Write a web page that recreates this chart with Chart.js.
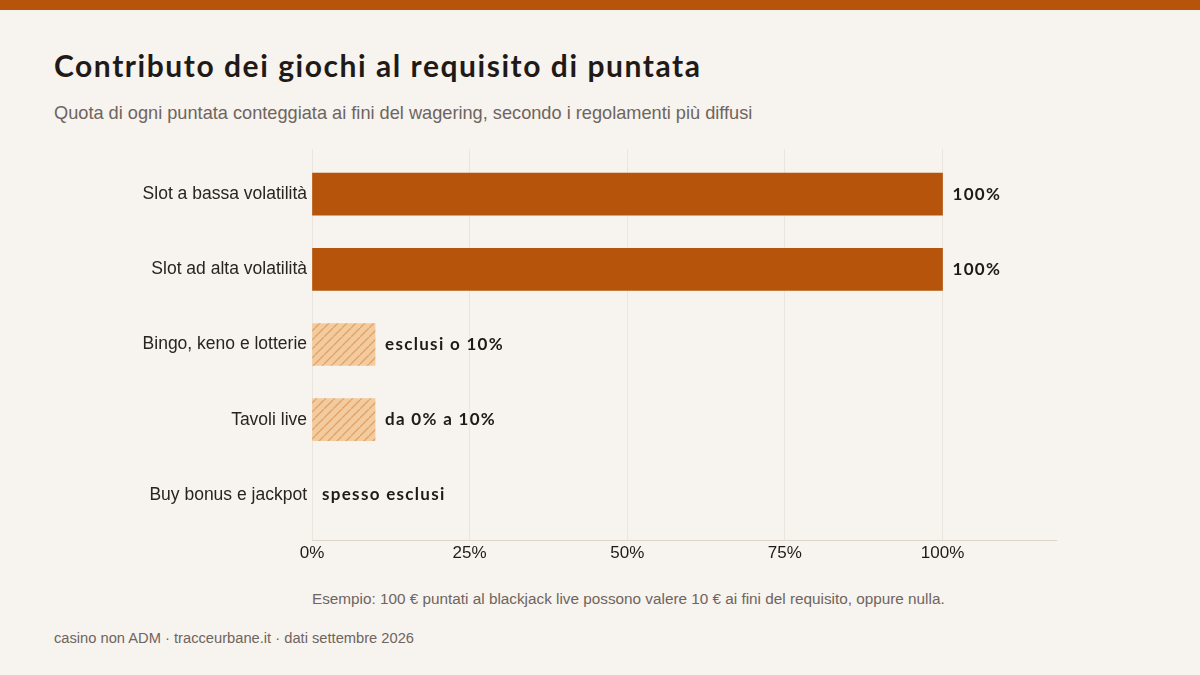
<!DOCTYPE html>
<html lang="it">
<head>
<meta charset="utf-8">
<title>Contributo dei giochi al requisito di puntata</title>
<script src="https://cdn.jsdelivr.net/npm/chart.js@4/dist/chart.umd.min.js"></script>
<style>
  html, body {
    margin: 0;
    padding: 0;
    width: 1200px;
    height: 675px;
    background: #f7f3ee;
    overflow: hidden;
  }
  .topbar {
    position: absolute;
    left: 0; top: 0;
    width: 1200px; height: 10px;
    background: #b5540a;
  }
  h1 {
    position: absolute;
    left: 54px; top: 47px;
    margin: 0;
    font: 700 30px "Lato", sans-serif;
    color: #1f1a17;
    letter-spacing: 1.55px;
    white-space: nowrap;
  }
  .subtitle {
    position: absolute;
    left: 54px; top: 103px;
    margin: 0;
    font: 18.2px "Liberation Sans", Arial, sans-serif;
    color: #6e655e;
    white-space: nowrap;
  }
  .chart-wrap {
    position: absolute;
    left: 0; top: 130px;
    width: 1200px; height: 440px;
  }
  .note {
    position: absolute;
    left: 312px; top: 590px;
    font: 15.3px "Liberation Sans", Arial, sans-serif;
    color: #6e655e;
    white-space: nowrap;
  }
  .footer {
    position: absolute;
    left: 54px; top: 630px;
    font: 14.7px "Liberation Sans", Arial, sans-serif;
    color: #6e655e;
    white-space: nowrap;
  }
</style>
</head>
<body>
<div class="topbar"></div>
<h1>Contributo dei giochi al requisito di puntata</h1>
<p class="subtitle">Quota di ogni puntata conteggiata ai fini del wagering, secondo i regolamenti più diffusi</p>
<div class="chart-wrap"><canvas id="chart"></canvas></div>
<div class="note">Esempio: 100 € puntati al blackjack live possono valere 10 € ai fini del requisito, oppure nulla.</div>
<div class="footer">casino non ADM · tracceurbane.it · dati settembre 2026</div>

<script>
// data
const categories = [
  "Slot a bassa volatilità",
  "Slot ad alta volatilità",
  "Bingo, keno e lotterie",
  "Tavoli live",
  "Buy bonus e jackpot",
];
const contribution = [100, 100, 10, 10, 0];
const valueLabels = ["100%", "100%", "esclusi o 10%", "da 0% a 10%", "spesso esclusi"];
// true when the rule varies between operators (drawn hatched)
const isRange = [false, false, true, true, false];
const xTicks = [0, 25, 50, 75, 100];

const SOLID = "#b5540a";
const INK = "#1f1a17";

function makeHatch() {
  const size = 9;
  const c = document.createElement("canvas");
  c.width = size;
  c.height = size;
  const ctx = c.getContext("2d");
  ctx.fillStyle = "#f2cc9f";
  ctx.fillRect(0, 0, size, size);
  ctx.strokeStyle = "#e3a164";
  ctx.lineWidth = 1.3;
  ctx.beginPath();
  ctx.moveTo(0, size);
  ctx.lineTo(size, 0);
  ctx.moveTo(-size, size);
  ctx.lineTo(0, 0);
  ctx.moveTo(size, 2 * size);
  ctx.lineTo(2 * size, size);
  ctx.stroke();
  return ctx.createPattern(c, "repeat");
}

const hatch = makeHatch();

const valueLabelPlugin = {
  id: "valueLabels",
  afterDatasetsDraw(chart) {
    const ctx = chart.ctx;
    const meta = chart.getDatasetMeta(0);
    ctx.save();
    ctx.font = "700 17px Lato, sans-serif";
    ctx.letterSpacing = "1.3px";
    ctx.fillStyle = INK;
    ctx.textBaseline = "middle";
    ctx.textAlign = "left";
    meta.data.forEach((bar, i) => {
      ctx.fillText(valueLabels[i], bar.x + 10, bar.y);
    });
    ctx.restore();
  },
};

new Chart(document.getElementById("chart"), {
  type: "bar",
  data: {
    datasets: [
      {
        data: contribution.map((v, i) => ({ x: v, y: i })),
        backgroundColor: contribution.map((v, i) =>
          v === 0 ? "rgba(0,0,0,0)" : isRange[i] ? hatch : SOLID
        ),
        borderWidth: 0,
        barThickness: 42,
      },
    ],
  },
  options: {
    indexAxis: "y",
    responsive: true,
    maintainAspectRatio: false,
    animation: false,
    layout: { padding: { top: 19, right: 144, left: 0, bottom: 0 } },
    plugins: {
      legend: { display: false },
      tooltip: { enabled: false },
    },
    scales: {
      x: {
        type: "linear",
        min: 0,
        max: 118,
        afterBuildTicks: (scale) => {
          scale.ticks = xTicks.map((v) => ({ value: v }));
        },
        afterFit: (scale) => {
          scale.height = 30;
        },
        grid: { color: "#ebe5dd", lineWidth: 1, drawTicks: false },
        border: { color: "#ddd5cb" },
        ticks: {
          padding: 3,
          color: INK,
          font: { family: "Liberation Sans", size: 17 },
          callback: (v) => v + "%",
        },
      },
      y: {
        type: "linear",
        reverse: true,
        offset: false,
        min: -0.6,
        max: categories.length - 0.4,
        afterBuildTicks: (scale) => {
          scale.ticks = categories.map((c, i) => ({ value: i }));
        },
        afterFit: (scale) => {
          scale.width = 312;
        },
        grid: { display: false, drawTicks: false },
        border: { display: false },
        ticks: {
          padding: 5,
          color: "#2a2420",
          font: { family: "Liberation Sans", size: 17.5 },
          callback: (v) => categories[v],
        },
      },
    },
  },
  plugins: [valueLabelPlugin],
});
</script>
</body>
</html>
